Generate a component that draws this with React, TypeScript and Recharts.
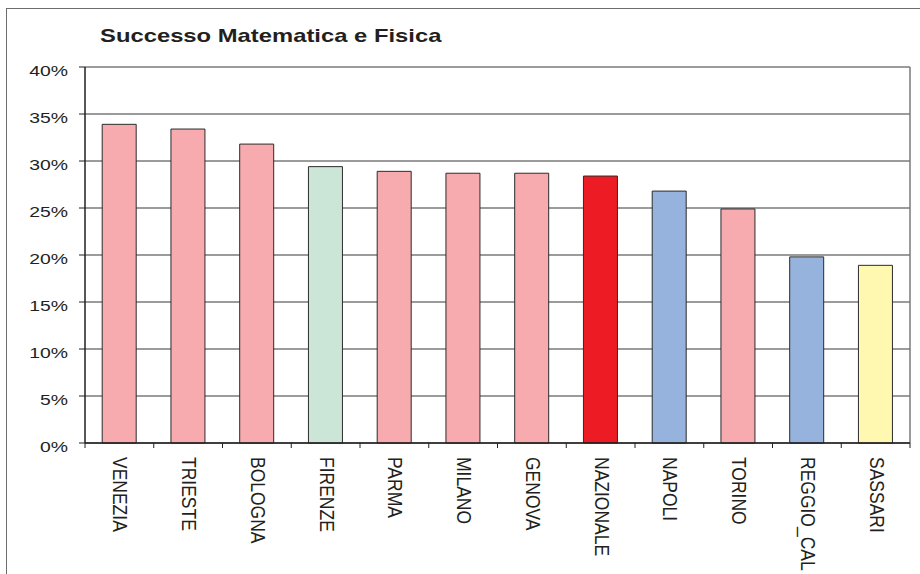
import { Bar, BarChart, CartesianGrid, Cell, XAxis, YAxis } from "recharts";

const categorie = [
  "VENEZIA",
  "TRIESTE",
  "BOLOGNA",
  "FIRENZE",
  "PARMA",
  "MILANO",
  "GENOVA",
  "NAZIONALE",
  "NAPOLI",
  "TORINO",
  "REGGIO_CAL",
  "SASSARI",
];
const successo = [0.339, 0.334, 0.318, 0.294, 0.289, 0.287, 0.287, 0.284, 0.268, 0.249, 0.198, 0.189];
const yTicks = [0, 0.05, 0.1, 0.15, 0.2, 0.25, 0.3, 0.35, 0.4];

const ROSA = "#F7ABAE";
const colori = [ROSA, ROSA, ROSA, "#CBE6D6", ROSA, ROSA, ROSA, "#ED1C24", "#95B3DD", ROSA, "#95B3DD", "#FFF8B0"];

const data = categorie.map((c, i) => ({ citta: c, valore: successo[i] }));

const FONT = '"Liberation Sans", Arial, sans-serif';
const BAND = 825 / 12;

function YTick(props: any) {
  const { x, y, payload } = props;
  return (
    <g transform={`translate(${x},${y + 8.5})`}>
      <text transform="scale(1.25,1)" textAnchor="end" fontSize={15.5} fontFamily={FONT} fill="#231F20">
        {`${Math.round(payload.value * 100)}%`}
      </text>
    </g>
  );
}

function XTick(props: any) {
  const { x, y, payload, index, visibleTicksCount } = props;
  // y arrives below the (hidden) tick line: step back to the axis
  const top = y - 8;
  return (
    <g>
      <line x1={x - BAND / 2} x2={x - BAND / 2} y1={top} y2={top + 5} stroke="#231F20" />
      {index === visibleTicksCount - 1 && (
        <line x1={x + BAND / 2} x2={x + BAND / 2} y1={top} y2={top + 5} stroke="#231F20" />
      )}
      <g transform={`translate(${x + 1},${top + 14}) scale(1.15,1) rotate(90)`}>
        <text textAnchor="start" dy="0.35em" fontSize={17.5} fontFamily={FONT} fill="#231F20">
          {payload.value}
        </text>
      </g>
    </g>
  );
}

export default function App() {
  return (
    <div
      style={{
        position: "absolute",
        left: 0,
        top: 0,
        width: 920,
        height: 574,
        overflow: "hidden",
        background: "#fff",
      }}
    >
      <div
        style={{
          position: "absolute",
          left: 6,
          top: 8,
          width: 940,
          height: 600,
          border: "1.5px solid #6d6d6d",
        }}
      />
      <svg width={920} height={60} style={{ position: "absolute", left: 0, top: 0 }}>
        <text
          transform="translate(100,42) scale(1.28,1)"
          fontSize={18.6}
          fontWeight="bold"
          fontFamily={FONT}
          fill="#231F20"
        >
          Successo Matematica e Fisica
        </text>
      </svg>
      <div style={{ position: "absolute", left: 0, top: 0 }}>
        <BarChart
          width={920}
          height={574}
          data={data}
          margin={{ top: 67, right: 10, left: 25, bottom: 0 }}
          barCategoryGap="25%"
        >
          <CartesianGrid vertical={false} stroke="#7a7a7a" strokeWidth={1.5} />
          <CartesianGrid
            horizontal={false}
            stroke="#7a7a7a"
            strokeWidth={1.5}
            verticalCoordinatesGenerator={({ offset }: any) => [offset.left + offset.width]}
          />
          <XAxis
            dataKey="citta"
            interval={0}
            height={131}
            axisLine={{ stroke: "#231F20", strokeWidth: 1.5 }}
            tickLine={false}
            tick={<XTick />}
          />
          <YAxis
            width={60}
            domain={[0, 0.4]}
            ticks={yTicks}
            interval={0}
            axisLine={{ stroke: "#231F20", strokeWidth: 1.5 }}
            tickLine={{ stroke: "#231F20" }}
            tickSize={6}
            tickMargin={11}
            tick={<YTick />}
          />
          <Bar dataKey="valore" stroke="#2b2b2b" strokeWidth={1} isAnimationActive={false}>
            {data.map((d, i) => (
              <Cell key={d.citta} fill={colori[i]} />
            ))}
          </Bar>
        </BarChart>
      </div>
    </div>
  );
}
